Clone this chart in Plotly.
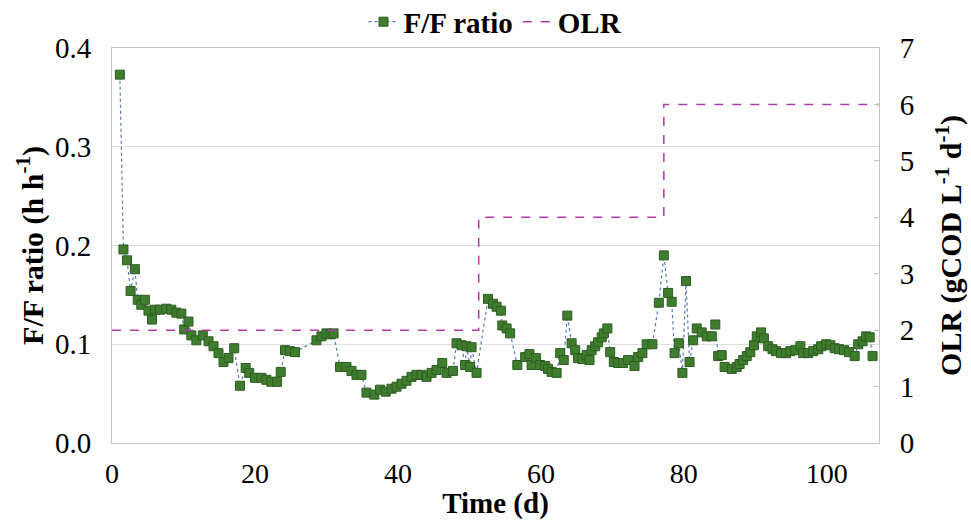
import plotly.graph_objects as go

# Feed-to-famine ratio measured over the run (day, h h-1)
day = [1.1, 1.6, 2.1, 2.6, 3.2, 3.6, 4.1, 4.6, 5.1, 5.6, 6.0, 6.7, 7.6, 8.3, 9.0, 9.7,
       10.1, 10.7, 11.1, 11.8, 12.7, 13.5, 14.2, 14.9, 15.6, 16.3, 17.1, 17.9, 18.7,
       19.2, 20.0, 20.9, 21.6, 22.3, 23.1, 23.6, 24.2, 24.9, 25.6, 28.6, 29.3, 30.0,
       30.6, 31.0, 31.9, 32.8, 33.5, 34.2, 34.9, 35.6, 36.7, 37.5, 38.3, 39.1, 39.8,
       40.5, 41.2, 41.9, 42.6, 43.3, 44.0, 44.7, 45.4, 46.2, 46.8, 47.7, 48.2, 48.9,
       49.4, 49.6, 50.1, 50.3, 51.0, 52.6, 53.3, 53.8, 54.4, 54.6, 55.2, 55.7, 56.7,
       57.8, 58.4, 58.7, 59.3, 59.9, 60.6, 61.0, 61.5, 62.2, 62.7, 63.2, 63.7, 64.3,
       64.8, 65.2, 65.8, 66.4, 66.8, 67.1, 67.6, 68.0, 68.5, 68.8, 69.3, 69.7, 70.2,
       70.8, 71.5, 72.2, 73.1, 73.6, 74.2, 74.8, 75.6, 76.5, 77.2, 77.8, 78.3, 78.7,
       79.3, 79.8, 80.3, 80.8, 81.3, 81.8, 82.5, 83.2, 83.9, 84.4, 84.8, 85.3, 85.7,
       86.7, 87.4, 87.8, 88.3, 88.8, 89.3, 89.8, 90.2, 90.8, 91.2, 91.8, 92.4, 92.9,
       93.6, 94.3, 94.9, 95.6, 96.3, 96.7, 97.4, 98.1, 98.8, 99.2, 99.9, 100.5, 101.1,
       101.7, 102.4, 103.1, 103.9, 104.4, 105.0, 105.5, 106.0, 106.4]
ff_ratio = [0.373, 0.196, 0.185, 0.154, 0.176, 0.145, 0.140, 0.145, 0.134, 0.125, 0.135,
            0.135, 0.136, 0.135, 0.132, 0.131, 0.115, 0.123, 0.109, 0.104, 0.109, 0.103,
            0.098, 0.091, 0.082, 0.086, 0.096, 0.058, 0.076, 0.071, 0.066, 0.066, 0.064,
            0.062, 0.062, 0.072, 0.094, 0.093, 0.092, 0.104, 0.108, 0.111, 0.110, 0.111,
            0.077, 0.077, 0.073, 0.069, 0.069, 0.051, 0.049, 0.054, 0.052, 0.055, 0.057,
            0.060, 0.063, 0.067, 0.069, 0.069, 0.067, 0.071, 0.074, 0.081, 0.071, 0.073,
            0.101, 0.099, 0.079, 0.098, 0.077, 0.097, 0.071, 0.146, 0.141, 0.138, 0.134,
            0.119, 0.116, 0.111, 0.079, 0.087, 0.090, 0.079, 0.086, 0.079, 0.078, 0.075,
            0.072, 0.071, 0.091, 0.084, 0.129, 0.101, 0.094, 0.086, 0.085, 0.089, 0.084,
            0.094, 0.098, 0.102, 0.107, 0.111, 0.116, 0.092, 0.082, 0.081, 0.081, 0.084,
            0.078, 0.087, 0.091, 0.100, 0.100, 0.142, 0.190, 0.152, 0.143, 0.091, 0.101,
            0.071, 0.164, 0.082, 0.104, 0.116, 0.112, 0.108, 0.108, 0.120, 0.088, 0.089,
            0.077, 0.075, 0.077, 0.080, 0.084, 0.088, 0.092, 0.099, 0.108, 0.112, 0.106,
            0.098, 0.095, 0.093, 0.091, 0.091, 0.093, 0.094, 0.098, 0.091, 0.091, 0.093,
            0.095, 0.098, 0.100, 0.099, 0.096, 0.095, 0.094, 0.092, 0.088, 0.100, 0.103,
            0.108, 0.107, 0.088]

# Organic loading rate steps (gCOD L-1 d-1)
olr_day = [0, 51.3, 77.2, 107.3]
olr = [2, 4, 6, 6]

x_ticks = [0, 20, 40, 60, 80, 100]
y_ticks = [0.0, 0.1, 0.2, 0.3, 0.4]
y2_ticks = [0, 1, 2, 3, 4, 5, 6, 7]

FONT = "Liberation Serif"
FRAME = "#c4c4c4"

fig = go.Figure()
fig.add_trace(go.Scatter(
    x=day, y=ff_ratio, name="F/F ratio", mode="lines+markers",
    line=dict(color="#5a78b0", width=1.2, dash="dot"),
    marker=dict(symbol="square", size=9, color="#3f7d2e",
                line=dict(color="#2e5c22", width=1)),
    yaxis="y",
))
fig.add_trace(go.Scatter(
    x=olr_day, y=olr, name="OLR", mode="lines", line_shape="hv",
    line=dict(color="#b03aa8", width=1.5, dash="dash"),
    yaxis="y2",
))

fig.update_layout(
    width=971, height=520,
    margin=dict(l=112, r=92, t=48, b=77, autoexpand=False),
    paper_bgcolor="white", plot_bgcolor="white",
    font=dict(family=FONT, size=28, color="black"),
    showlegend=True,
    legend=dict(orientation="h", x=0.5, xanchor="center",
                yref="container", y=0.958, yanchor="middle",
                font=dict(family=FONT, size=29, color="black", weight="bold"),
                itemwidth=30, tracegroupgap=0, bgcolor="rgba(0,0,0,0)"),
    xaxis=dict(range=[0, 107.3], tickvals=x_ticks, showgrid=False, zeroline=False,
               showline=True, linecolor=FRAME, linewidth=1, mirror=True,
               ticks="", ticklabelstandoff=5, automargin=False,
               tickfont=dict(family=FONT, size=28),
               title=dict(text="<b>Time (d)</b>", standoff=0,
                          font=dict(family=FONT, size=29))),
    yaxis=dict(range=[0, 0.4], tickvals=y_ticks, tickformat=".1f",
               showgrid=True, gridcolor="#dedede", gridwidth=1, zeroline=False,
               showline=True, linecolor=FRAME, linewidth=1, mirror=True,
               ticks="", ticklabelstandoff=14, automargin=False,
               tickfont=dict(family=FONT, size=29),
               title=dict(text="<b>F/F ratio (h h<sup>-1</sup>)</b>", standoff=2,
                          font=dict(family=FONT, size=30))),
    yaxis2=dict(range=[0, 7], tickvals=y2_ticks, overlaying="y", side="right",
                showgrid=False, zeroline=False, showline=True, linecolor=FRAME,
                ticks="inside", ticklen=5, tickcolor=FRAME, ticklabelstandoff=14,
                automargin=False,
                tickfont=dict(family=FONT, size=29),
                title=dict(text="<b>OLR (gCOD L<sup>-1</sup> d<sup>-1</sup>)</b>",
                           standoff=26, font=dict(family=FONT, size=30))),
)

fig.write_html("out.html")
